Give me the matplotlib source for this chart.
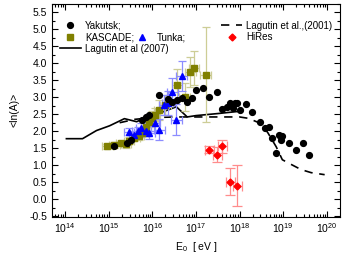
import numpy as np
import matplotlib
matplotlib.use("Agg")
import matplotlib.pyplot as plt
from matplotlib.lines import Line2D
from matplotlib.ticker import FixedLocator, MultipleLocator, NullFormatter

plt.rcParams['font.family'] = ['Liberation Sans', 'DejaVu Sans']
plt.rcParams['mathtext.fontset'] = 'custom'
plt.rcParams['mathtext.rm'] = 'Liberation Sans'

# ---- data (energies as log10(E/eV)) ----
yak_logE = [15.13, 15.43, 15.52, 15.77, 15.86, 15.93, 16.16, 16.35, 16.46, 16.57,
            16.67, 16.80, 16.92, 17.01, 17.15, 17.31, 17.49, 17.60, 17.70, 17.79,
            17.84, 17.90, 17.95, 18.00, 18.15, 18.29, 18.47, 18.59, 18.68, 18.75,
            18.84, 18.90, 18.96, 18.98, 19.13, 19.30, 19.46, 19.58]
yak_lnA = [1.57, 1.66, 1.75, 2.34, 2.43, 2.49, 3.07, 2.96, 2.87, 2.93,
           2.98, 2.87, 2.98, 3.22, 3.28, 3.01, 3.16, 2.66, 2.72, 2.83,
           2.69, 2.83, 2.83, 2.63, 2.81, 2.57, 2.26, 2.10, 2.13, 1.81,
           1.36, 1.90, 1.75, 1.87, 1.66, 1.45, 1.66, 1.31]

kas_logE = [14.97, 15.13, 15.29, 15.40, 15.47, 15.59, 15.70, 15.77, 15.86, 15.93,
            16.00, 16.05, 16.16, 16.30, 16.57, 16.74, 16.87, 16.96, 17.22]
kas_lnA = [1.55, 1.60, 1.64, 1.62, 1.72, 1.80, 1.87, 1.95, 2.13, 2.26,
           2.40, 2.49, 2.63, 2.78, 3.37, 3.01, 3.75, 3.87, 3.66]
kas_err = [0.08, 0.08, 0.08, 0.10, 0.10, 0.10, 0.12, 0.12, 0.15, 0.15,
           0.20, 0.20, 0.30, 0.30, 0.45, 0.40, 0.45, 0.50, 1.40]

tun_logE = [15.47, 15.59, 15.66, 15.75, 15.86, 15.93, 16.05, 16.16, 16.27, 16.35,
            16.46, 16.55, 16.67]
tun_lnA = [1.99, 1.90, 2.00, 2.10, 2.00, 1.96, 2.25, 2.05, 2.78, 2.84,
           3.16, 2.34, 3.63]
tun_err = [0.10, 0.12, 0.12, 0.15, 0.15, 0.20, 0.25, 0.30, 0.30, 0.35,
           0.40, 0.45, 0.45]

hir_logE = [17.31, 17.49, 17.60, 17.79, 17.95]
hir_lnA = [1.46, 1.31, 1.55, 0.51, 0.40]
hir_err = [0.11, 0.22, 0.20, 0.40, 0.60]

lag07_logE = [14.03, 14.40, 14.72, 15.02, 15.36, 15.64, 15.90, 16.20, 16.55, 16.80,
              17.00, 17.50, 17.95]
lag07_lnA = [1.78, 1.78, 2.02, 2.16, 2.37, 2.28, 2.43, 2.55, 2.72, 2.42,
             2.46, 2.52, 2.58]

lag01_logE = [15.25, 15.60, 16.00, 16.50, 17.00, 17.50, 18.00, 18.20, 18.50, 18.65,
              18.84, 18.98, 19.20, 19.41, 19.64, 19.95]
lag01_lnA = [2.25, 2.35, 2.40, 2.42, 2.42, 2.42, 2.42, 2.38, 2.22, 1.95,
             1.54, 1.16, 1.01, 0.87, 0.78, 0.72]

x_decades = [14, 15, 16, 17, 18, 19, 20]

def E(l):
    return 10.0 ** np.asarray(l)

def xerr(l, d):
    l = np.asarray(l)
    return [10 ** l - 10 ** (l - d), 10 ** (l + d) - 10 ** l]

fig = plt.figure(figsize=(3.49, 2.59), dpi=100)
ax = fig.add_axes([0.149, 0.163, 0.825, 0.822])

ax.plot(E(lag07_logE), lag07_lnA, '-', color='black', lw=1.2, zorder=3)
ax.plot(E(lag01_logE), lag01_lnA, '--', color='black', lw=1.2, dashes=(5, 4), zorder=3)

ax.errorbar(E(kas_logE), kas_lnA, yerr=kas_err, xerr=xerr(kas_logE, 0.12),
            fmt='s', color='#808000', ms=4, ecolor='#cdcd96', elinewidth=0.9,
            capsize=3, capthick=0.9, zorder=4)
ax.errorbar(E(tun_logE), tun_lnA, yerr=tun_err, xerr=xerr(tun_logE, 0.12),
            fmt='^', color='#0000ff', ms=4.5, ecolor='#8c8cff', elinewidth=0.9,
            capsize=3, capthick=0.9, zorder=4)
ax.errorbar(E(hir_logE), hir_lnA, yerr=hir_err, xerr=xerr(hir_logE, 0.1),
            fmt='D', color='#ff0000', ms=3.5, ecolor='#ff8c8c', elinewidth=0.9,
            capsize=3.5, capthick=0.9, zorder=4)
ax.plot(E(yak_logE), yak_lnA, 'o', color='black', ms=4.2, zorder=5)

ax.set_xscale('log')
ax.set_xlim(10 ** 13.7, 10 ** 20.3)
ax.set_ylim(-0.52, 5.75)
ax.yaxis.set_major_locator(MultipleLocator(0.5))
ax.yaxis.set_minor_locator(MultipleLocator(0.25))
ax.xaxis.set_major_locator(FixedLocator(E(x_decades)))
ax.set_xticklabels([r'$\mathregular{10^{%d}}$' % d for d in x_decades])
minors = [m * 10.0 ** d for d in range(13, 21) for m in range(2, 10)
          if 10 ** 13.7 <= m * 10.0 ** d <= 10 ** 20.3]
ax.xaxis.set_minor_locator(FixedLocator(minors))
ax.xaxis.set_minor_formatter(NullFormatter())
ax.yaxis.set_major_formatter(matplotlib.ticker.FuncFormatter(lambda v, p: f"{v:.1f}"))
ax.tick_params(which='both', direction='in', top=True, right=True, labelsize=7.5, width=0.8)
ax.tick_params(which='major', length=4)
ax.tick_params(which='minor', length=2)
for s in ax.spines.values():
    s.set_linewidth(0.8)

ax.set_ylabel('<ln(A)>', fontsize=7.5, labelpad=7)
ax.set_xlabel(r'E$_0$  [ eV ]', fontsize=7.5, labelpad=3)

h_yak = Line2D([], [], ls='none', marker='o', color='black', ms=4.2)
h_kas = Line2D([], [], ls='none', marker='s', color='#808000', ms=4)
h_tun = Line2D([], [], ls='none', marker='^', color='#0000ff', ms=4.5)
h_l07 = Line2D([], [], ls='-', color='black', lw=1.2)
h_l01 = Line2D([], [], ls='--', color='black', lw=1.2, dashes=(5, 4))
h_hir = Line2D([], [], ls='none', marker='D', color='#ff0000', ms=3.5)

kw = dict(frameon=False, fontsize=7, handlelength=2.2, handletextpad=0.4,
          labelspacing=0.15, borderpad=0.2, borderaxespad=0)
leg1 = ax.legend([h_yak, h_kas, h_l07], ['Yakutsk;', 'KASCADE;', 'Lagutin et al (2007)'],
                 loc='upper left', bbox_to_anchor=(0.02, 0.93), **kw)
ax.add_artist(leg1)
leg2 = ax.legend([h_tun], ['Tunka;'], loc='upper left', bbox_to_anchor=(0.27, 0.874), **kw)
ax.add_artist(leg2)
ax.legend([h_l01, h_hir], ['Lagutin et al.,(2001)', 'HiRes'],
          loc='upper left', bbox_to_anchor=(0.58, 0.93), **kw)

fig.savefig('out.png', dpi=100)
